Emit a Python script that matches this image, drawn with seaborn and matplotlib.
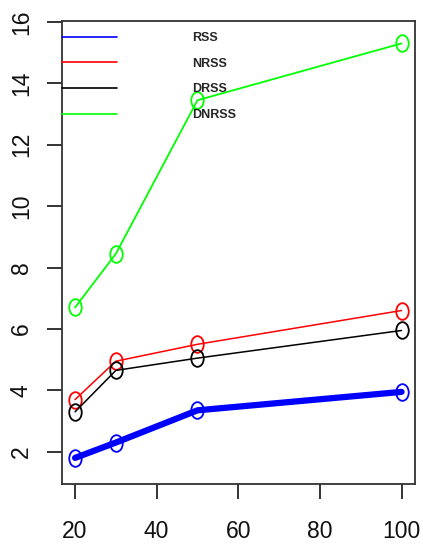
import numpy as np
import pandas as pd
import matplotlib
matplotlib.use("Agg")
import matplotlib.pyplot as plt
from matplotlib.path import Path
from matplotlib.transforms import Affine2D, blended_transform_factory
import seaborn as sns

# sample sizes and the error measure for each scheme
n_values = [20, 30, 50, 100]
rss = [1.8, 2.3, 3.35, 3.95]
nrss = [3.7, 4.95, 5.5, 6.6]
drss = [3.3, 4.65, 5.05, 5.95]
dnrss = [6.7, 8.45, 13.45, 15.3]

series_names = ["RSS", "NRSS", "DRSS", "DNRSS"]
series_values = [rss, nrss, drss, dnrss]
colors = {"RSS": "#0000FF", "NRSS": "#FF0000", "DRSS": "#000000", "DNRSS": "#00FF00"}
widths = {"RSS": 4.5, "NRSS": 1.1, "DRSS": 1.1, "DNRSS": 1.3}

x_ticks = [20, 40, 60, 80, 100]
y_ticks = [2, 4, 6, 8, 10, 12, 14, 16]

df = pd.DataFrame({
    "n": np.tile(n_values, len(series_names)),
    "value": np.concatenate(series_values),
    "series": np.repeat(series_names, len(n_values)),
})

sns.set_theme(style="ticks")
plt.rcParams["font.family"] = ["Liberation Sans", "DejaVu Sans"]
plt.rcParams.update({
    "xtick.major.size": 11, "ytick.major.size": 11,
    "xtick.major.width": 1.2, "ytick.major.width": 1.2,
    "xtick.color": "#333333", "ytick.color": "#333333",
    "xtick.labelcolor": "#111111", "ytick.labelcolor": "#111111",
    "xtick.labelsize": 16.5, "ytick.labelsize": 16.5,
    "xtick.major.pad": 15, "ytick.major.pad": 10,
    "xtick.bottom": True, "ytick.left": True,
})

fig = plt.figure(figsize=(4.23, 5.45), dpi=100)
ax = fig.add_axes([62 / 423, 1 - 484 / 545, (415 - 62) / 423, (484 - 21) / 545])

# tall open "O" marker
ring = Path.unit_circle().transformed(Affine2D().scale(0.75, 1.0))

for name in series_names:
    sub = df[df["series"] == name]
    sns.lineplot(data=sub, x="n", y="value", ax=ax, color=colors[name],
                 linewidth=widths[name], marker=ring, markersize=12,
                 markerfacecolor="none", markeredgecolor=colors[name],
                 markeredgewidth=1.3, legend=False)

ax.set_xlim(16.8, 103.3)
ax.set_ylim(0.95, 16.03)
ax.set_xticks(x_ticks)
ax.set_yticks(y_ticks)
ax.set_xlabel("")
ax.set_ylabel("")
for lbl in ax.get_yticklabels():
    lbl.set_rotation(90)
    lbl.set_va("center")
for sp in ax.spines.values():
    sp.set_visible(True)
    sp.set_color("#333333")
    sp.set_linewidth(1.3)

# outward tick strokes at the tick positions
tick_px = 11 * fig.dpi / 72
bbox = ax.get_window_extent()
ytrans = blended_transform_factory(ax.transAxes, ax.transData)
xtrans = blended_transform_factory(ax.transData, ax.transAxes)
for yt in y_ticks:
    ax.plot([0, -tick_px / bbox.width], [yt, yt], transform=ytrans,
            color="#333333", linewidth=1.2, clip_on=False, solid_capstyle="butt")
for xt in x_ticks:
    ax.plot([xt, xt], [0, -tick_px / bbox.height], transform=xtrans,
            color="#333333", linewidth=1.2, clip_on=False, solid_capstyle="butt")

handles = [plt.Line2D([], [], color=colors[n], linewidth=1.2) for n in series_names]
leg = ax.legend(handles, series_names, loc="upper left",
                bbox_to_anchor=(0.0, 1.0 - 11 / 463),
                frameon=False, borderaxespad=0.0, borderpad=0.0,
                handlelength=4.4, handletextpad=6.0, labelspacing=1.1,
                prop={"family": "Liberation Sans", "weight": "bold", "size": 9})

fig.savefig("out.png", dpi=100)
